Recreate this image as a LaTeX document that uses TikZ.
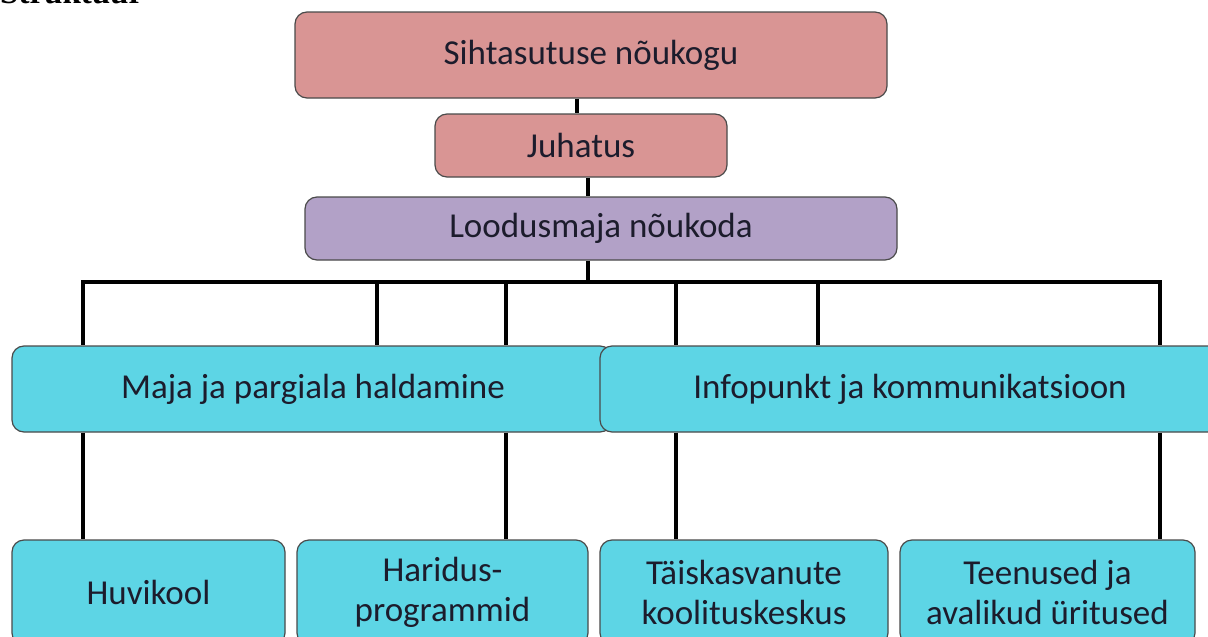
\documentclass[tikz,border=0pt]{standalone}
\usepackage{fontspec}
\setmainfont{Carlito}
\newfontfamily\titlefont{Liberation Serif}
\definecolor{pinkbox}{HTML}{D99594}
\definecolor{purplebox}{HTML}{B2A1C7}
\definecolor{cyanbox}{HTML}{5DD5E5}
\definecolor{boxedge}{HTML}{4A4A4A}
\definecolor{boxtext}{HTML}{1C1C2C}
\tikzset{
  orgbox/.style={draw=boxedge, line width=1.2pt, rounded corners=12pt, inner sep=0pt,
    text=boxtext, font=\fontsize{35}{40}\selectfont, align=center},
  conn/.style={draw=black, line width=3.5pt},
}
\begin{document}
\begin{tikzpicture}[x=1pt,y=-1pt]
\useasboundingbox (0,0) rectangle (1208,637);
\clip (0,0) rectangle (1208,637);
\fill[white] (0,0) rectangle (1208,637);
\node[anchor=base west, inner sep=0pt, font=\titlefont\bfseries\fontsize{33}{38}\selectfont] (title) at (0,4) {Struktuur};

% nodes
\node[orgbox, fill=pinkbox, minimum width=592pt, minimum height=86pt] (top) at (591,55) {Sihtasutuse nõukogu};
\node[orgbox, fill=pinkbox, minimum width=292pt, minimum height=63pt] (jh) at (581,145.5) {Juhatus};
\node[orgbox, fill=purplebox, minimum width=592pt, minimum height=63pt] (lm) at (601,228.5) {Loodusmaja nõukoda};

\coordinate (bar) at (588,282);

% connectors (top part)
\draw[conn] ([xshift=-14pt]top.south) -- ([xshift=-14pt]top.south |- jh.north);
\draw[conn] ([xshift=7pt]jh.south) -- ([xshift=7pt]jh.south |- lm.north);
\draw[conn] ([xshift=-13pt]lm.south) -- (bar);

\node[orgbox, fill=cyanbox, minimum width=600pt, minimum height=86pt] (maja) at (312,389) {\hspace*{2pt}Maja ja pargiala haldamine};
\node[orgbox, fill=cyanbox, minimum width=630pt, minimum height=86pt] (info) at (915,389) {\hspace*{-10pt}Infopunkt ja kommunikatsioon};

\foreach \dx in {-229,65,194} {
  \draw[conn, line join=miter] (bar) -| ([xshift=\dx pt]maja.north);
}
\foreach \dx in {-239,-97,245} {
  \draw[conn, line join=miter] (bar) -| ([xshift=\dx pt]info.north);
}

% bottom boxes
\node[orgbox, fill=cyanbox, minimum width=273pt, minimum height=105pt] (hk) at (148.5,592.5) {Huvikool};
\node[orgbox, fill=cyanbox, minimum width=291pt, minimum height=105pt] (hp) at (442.5,592.5) {Haridus-\\programmid};
\node[orgbox, fill=cyanbox, minimum width=288pt, minimum height=105pt] (tk) at (744,592.5) {Täiskasvanute\\koolituskeskus};
\node[orgbox, fill=cyanbox, minimum width=295pt, minimum height=105pt] (te) at (1047.5,592.5) {Teenused ja\\avalikud üritused};

\draw[conn] ([xshift=-229pt]maja.south) -- ([xshift=-229pt]maja.south |- hk.north);
\draw[conn] ([xshift=194pt]maja.south) -- ([xshift=194pt]maja.south |- hp.north);
\draw[conn] ([xshift=-239pt]info.south) -- ([xshift=-239pt]info.south |- tk.north);
\draw[conn] ([xshift=245pt]info.south) -- ([xshift=245pt]info.south |- te.north);
\end{tikzpicture}
\end{document}
